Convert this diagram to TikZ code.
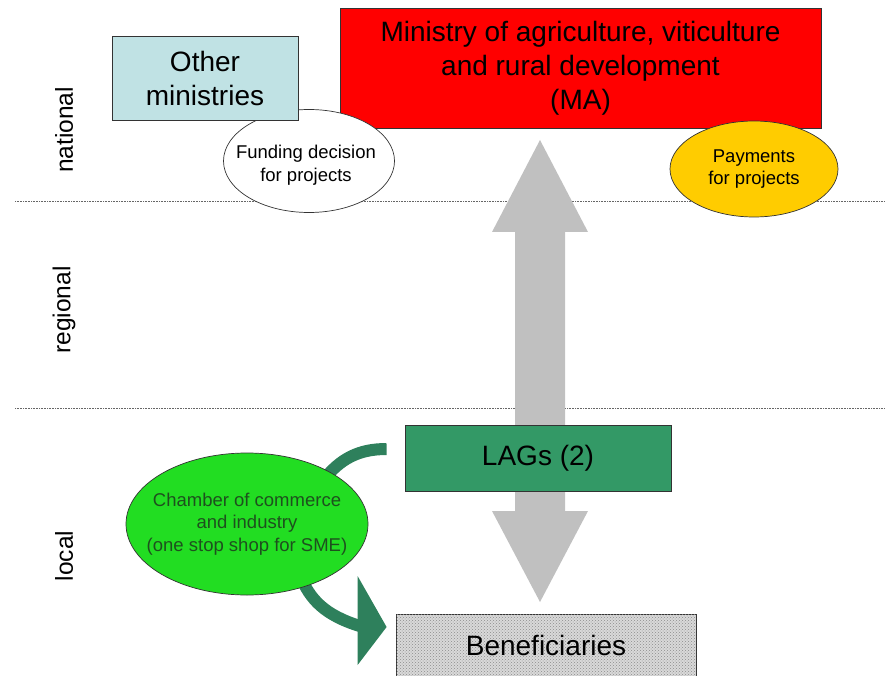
\documentclass[tikz,border=0pt]{standalone}
\usepackage{fontspec}
\setmainfont{Liberation Sans}
\usetikzlibrary{shapes.geometric,patterns,calc}
\definecolor{skyfill}{RGB}{192,226,228}
\definecolor{lagfill}{RGB}{51,153,102}
\definecolor{bandgreen}{RGB}{46,128,92}
\definecolor{chamberfill}{RGB}{34,221,34}
\definecolor{chambertext}{RGB}{30,80,30}
\definecolor{payfill}{RGB}{255,204,0}
\definecolor{arrowgray}{RGB}{192,192,192}
\begin{document}
\begin{tikzpicture}[x=1pt,y=-1pt,
  box/.style={draw=black!80, line width=0.8pt, inner sep=0pt, align=center,
    font=\fontsize{28}{34}\selectfont},
  bubble/.style={ellipse, draw=black!80, line width=0.7pt, inner sep=0pt},
  bubbletext/.style={align=center, inner sep=0pt, font=\fontsize{18.5}{22.5}\selectfont},
  level/.style={rotate=90, font=\fontsize{24.5}{28}\selectfont},
  divider/.style={black!60, line width=0.5pt, dash pattern=on 0.8pt off 0.8pt},
  band/.style={bandgreen, line width=12pt},
  bigarrow/.style={fill=arrowgray, draw=none}]
\useasboundingbox (0,0) rectangle (885,676);

% level dividers
\draw[divider] (15,201) -- (885,201);
\draw[divider] (15,408) -- (885,408);

% node positions (drawing order is set further below)
\path (580.5,68) coordinate (maC)
      (205,78) coordinate (otherC)
      (538,458) coordinate (lagsC)
      (546,645) coordinate (beneC)
      (247,524) coordinate (chamberC);

% vertical two-way flow between ministry and beneficiaries
\coordinate (uptip) at (540,140);
\coordinate (downtip) at (540,602);
\fill[bigarrow] (uptip) -- ($(uptip)+(48,92)$) -- ($(uptip)+(25,92)$)
  -- ($(downtip)+(25,-91)$) -- ($(downtip)+(48,-91)$) -- (downtip)
  -- ($(downtip)+(-48,-91)$) -- ($(downtip)+(-25,-91)$)
  -- ($(uptip)+(-25,92)$) -- ($(uptip)+(-48,92)$) -- cycle;

% LAGs box
\node[box, fill=lagfill, minimum width=266pt, minimum height=66pt] (lags) at (lagsC) {LAGs (2)};

% beneficiaries box
\node[box, fill=gray!30, minimum width=300pt, minimum height=62pt,
      postaction={pattern=crosshatch dots, pattern color=gray!90}] (bene) at (beneC) {};
\node[font=\fontsize{28}{34}\selectfont] (benetext) at (bene.center) {Beneficiaries};

% green bands linking the chamber of commerce
\draw[band] ($(lags.west)+(-18,-9)$) .. controls ($(lags.west)+(-45,-9)$) and ($(chamberC)+(93,-66)$) .. ($(chamberC)+(75,-42)$);
\draw[band] ($(chamberC)+(53,51)$) .. controls ($(chamberC)+(63,76)$) and ($(chamberC)+(78,91)$) .. ($(bene.west)+(-36,-19)$);
\fill[bandgreen] ($(bene.west)+(-38,-69)$) -- ($(bene.west)+(-9,-18)$) -- ($(bene.west)+(-38,20)$) -- cycle;

% chamber of commerce
\node[bubble, fill=chamberfill, minimum width=242pt, minimum height=142pt] (chamber) at (chamberC) {};
\node[bubbletext, text=chambertext] (chambertxt) at (chamber.center)
  {Chamber of commerce\\and industry\\(one stop shop for SME)};

% national level
\node[box, fill=red, minimum width=481pt, minimum height=120pt] (ma) at (maC)
  {Ministry of agriculture, viticulture\\and rural development\\(MA)};
\node[bubble, fill=white, minimum width=171pt, minimum height=103pt] (funding) at (309,161) {};
\node[bubbletext] (fundingtxt) at (306,165) {Funding decision\\for projects};
\node[box, fill=skyfill, minimum width=186pt, minimum height=84pt] (other) at (otherC)
  {Other\\ministries};
\node[bubble, fill=payfill, minimum width=168pt, minimum height=96pt] (payments) at (754,169) {};
\node[bubbletext] (paymentstxt) at (payments.center) {Payments\\for projects};

% level labels
\node[level] (national) at (64,130) {national};
\node[level] (regional) at (64,310) {regional};
\node[level] (local) at (64,556) {local};
\end{tikzpicture}
\end{document}
